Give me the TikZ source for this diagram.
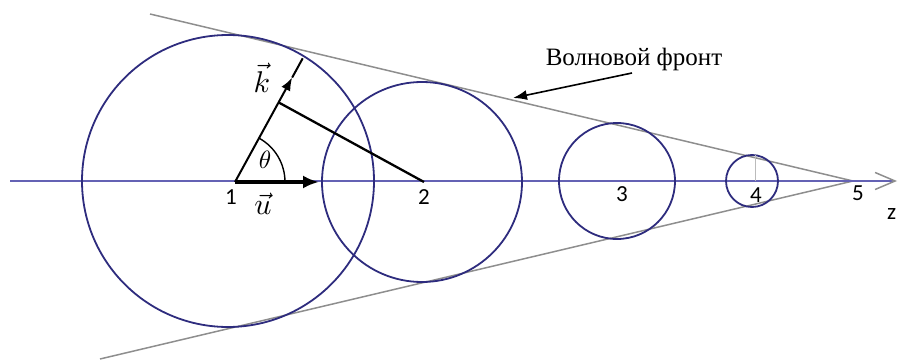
\documentclass[tikz,border=0pt]{standalone}
\usepackage{amsmath}
\usepackage{fontspec}
\newfontfamily\numfont{Carlito}
\newfontfamily\wavefont{Liberation Serif}
\usetikzlibrary{arrows.meta,calc}
\definecolor{navy}{HTML}{2E2C7E}
\definecolor{axisblue}{HTML}{6462B4}
\definecolor{frontgray}{HTML}{8E8E8E}
\newcommand{\biglbl}[2]{\scalebox{#1}{$#2$}}
\tikzset{
  circ/.style={draw=navy,line width=1.8pt},
  axisln/.style={draw=axisblue,line width=1.6pt},
  front/.style={draw=frontgray,line width=1.5pt},
  num/.style={font=\fontsize{23}{26}\selectfont\numfont,inner sep=1pt},
  vlbl/.style={inner sep=1pt},
  ar/.style={-{Latex[length=13pt,width=10pt]},line width=2pt},
}

\begin{document}
\begin{tikzpicture}[x=1pt,y=-1pt]
  \useasboundingbox (0,0) rectangle (898,361);
  % points on the axis
  \coordinate (zstart) at (10,181);
  \coordinate (zend) at (897,181);
  \coordinate (p1) at (235,182);
  \coordinate (p2) at (424,182);
  \coordinate (p5) at (853,181);
  % wave front
  \coordinate (ftop) at (150,14);
  \coordinate (fbot) at (100,359);
  \draw[front] (ftop) -- (p5);
  \draw[front] (fbot) -- (p5);
  \draw[axisln,-{Straight Barb[length=20pt,width=17pt,color=frontgray,line width=1.5pt]}] (zstart) -- (zend);
  % spherical waves
  \coordinate (c1) at (228,181);
  \coordinate (c2) at (422,182);
  \coordinate (c3) at (617,181);
  \coordinate (c4) at (752,181);
  \draw[circ] (c1) circle[radius=146pt];
  \draw[circ] (c2) circle[radius=100pt];
  \draw[circ] (c3) circle[radius=58pt];
  \draw[circ] (c4) circle[radius=26pt];
  \coordinate (r4) at ($(c4)+(3pt,26pt)$);
  \draw[draw=frontgray!60,line width=1pt] ($(c4)+(3pt,0)$) -- (r4);
  % vectors k and u
  \coordinate (ktip) at ($(p1)+(61.3:119pt)$);
  \coordinate (kend) at ($(p1)+(61.3:141pt)$);
  \coordinate (utip) at (319,182);
  \coordinate (foot) at ($(p1)!(p2)!(kend)$);
  \draw[ar] (p1) -- (ktip);
  \draw[line width=2pt] (ktip) -- (kend);
  \draw[line width=2.3pt] (foot) -- (p2);
  \draw[-{Latex[length=16pt,width=13pt]},line width=3.6pt] (p1) -- (utip);
  \draw[line width=1.4pt] ($(p1)+(50pt,0)$) arc[start angle=0,end angle=61.3,radius=50pt];
  % labels
  \node[vlbl] (kl) at (262,78) {\biglbl{3}{\vec{k}}};
  \node[vlbl] (ul) at (263,204) {\biglbl{3}{\vec{u}}};
  \node[vlbl] (th) at (265,160) {\biglbl{2.5}{\theta}};
  \node[num] (l1) at (231,197) {1};
  \node[num] (l2) at (424,197) {2};
  \node[num] (l3) at (622,194) {3};
  \node[num] (l4) at (756,195) {4};
  \node[num] (l5) at (858,193) {5};
  \node[num,anchor=west] (lz) at (886,214) {z};
  % wave front label
  \node[font=\fontsize{25}{29}\selectfont\wavefont] (wl) at (634,59) {Волновой фронт};
  \coordinate (wtail) at (632,73);
  \coordinate (whead) at (513,98);
  \draw[-{Latex[length=14pt,width=10pt]},line width=1.6pt] (wtail) -- (whead);
\end{tikzpicture}
\end{document}
